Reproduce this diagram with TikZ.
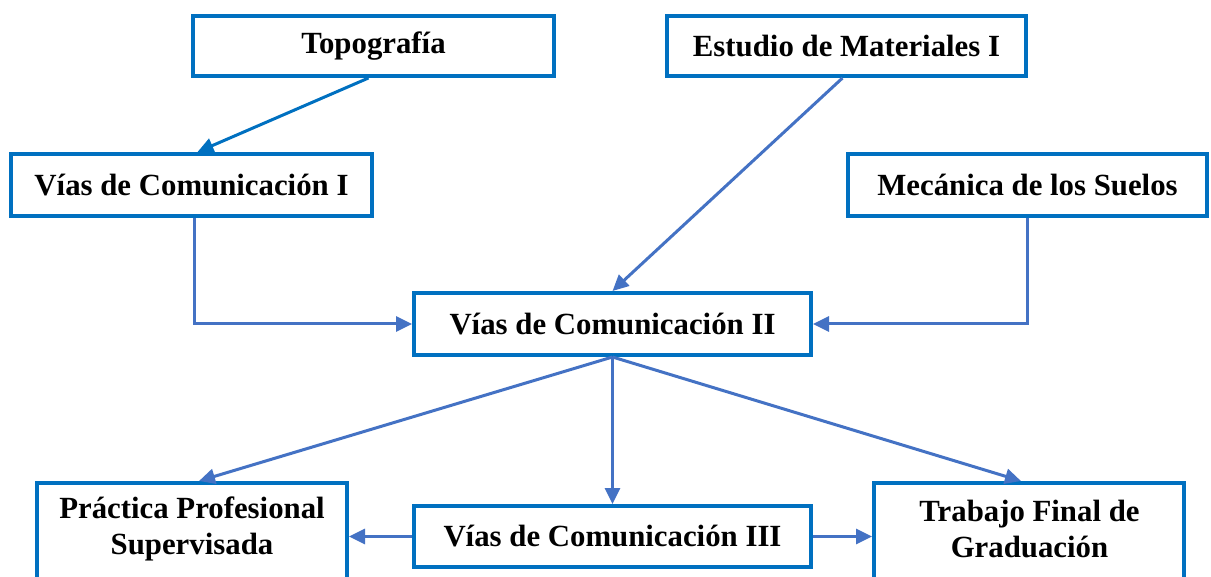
\documentclass[tikz,border=0pt]{standalone}
\usepackage{fontspec}
\setmainfont{Liberation Serif}
\usetikzlibrary{arrows.meta,calc}
\definecolor{boxblue}{HTML}{0070C0}
\definecolor{arrblue}{HTML}{4472C4}
\begin{document}
\begin{tikzpicture}[x=1pt,y=-1pt,
  box/.style={draw=boxblue, line width=4pt, rectangle, inner sep=0pt, align=center,
    font=\fontsize{30.8}{36}\selectfont\bfseries},
  txt/.style={inner sep=0pt, align=center, font=\fontsize{30.8}{36}\selectfont\bfseries},
  conn/.style={draw=arrblue, line width=3pt, -{Triangle[length=16pt,width=15pt]}}]
\useasboundingbox (0,0) rectangle (1211,577);
\clip (0,0) rectangle (1211,577);
\node[box, minimum width=361pt, minimum height=60pt] (topo) at (373.5,46) {Topografía};
\node[box, minimum width=359pt, minimum height=60pt] (estudio) at (846.5,46) {Estudio de Materiales I};
\node[box, minimum width=361pt, minimum height=62pt] (vias1) at (191.5,185) {Vías de Comunicación I};
\node[box, minimum width=359pt, minimum height=62pt] (mec) at (1027.5,185) {Mecánica de los Suelos};
\node[box, minimum width=397pt, minimum height=62pt] (vias2) at (612.5,324) {Vías de Comunicación II};
\node[box, minimum width=397pt, minimum height=61pt] (vias3) at (612.5,536.5) {Vías de Comunicación III};
\node[box, minimum width=310pt, minimum height=107pt] (pps) at (192,536.5) {};
\node[txt] (ppsT) at (192,529) {Práctica Profesional\\Supervisada};
\node[box, minimum width=310pt, minimum height=107pt] (tfg) at (1029,536.5) {};
\node[txt] (tfgT) at (1029.5,529) {Trabajo Final de\\Graduación};

\draw[conn, draw=boxblue, -{Triangle[length=16pt,width=15pt,fill=boxblue]}] ([xshift=-5pt]topo.south) -- ([xshift=6pt]vias1.north);
\draw[conn] ([xshift=-4pt]estudio.south) -- (vias2.north);
\draw[conn] ([xshift=3pt]vias1.south) |- (vias2.west);
\draw[conn] (mec.south) |- (vias2.east);
\draw[conn] (vias2.south) -- ([xshift=7pt]pps.north);
\draw[conn] (vias2.south) -- (vias3.north);
\draw[conn] (vias2.south) -- ([xshift=-8pt]tfg.north);
\draw[conn] (vias3.west) -- (vias3.west -| pps.east);
\draw[conn] (vias3.east) -- (vias3.east -| tfg.west);
\end{tikzpicture}
\end{document}
